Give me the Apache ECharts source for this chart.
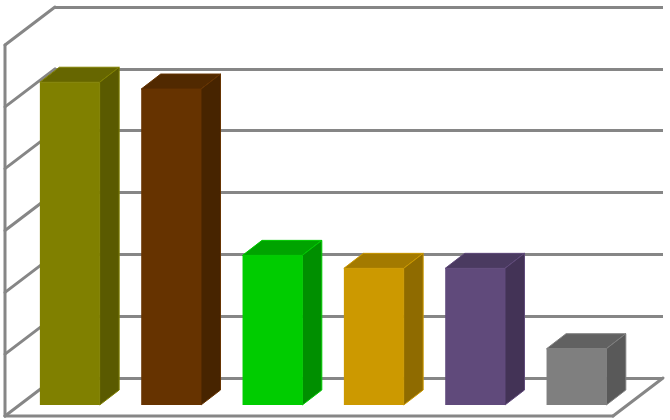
<!DOCTYPE html>
<html><head><meta charset="utf-8">
<style>html,body{margin:0;padding:0;background:#fff}#c{width:670px;height:420px}</style>
<script src="https://cdn.jsdelivr.net/npm/echarts@6/dist/echarts.min.js"></script>
</head><body><div id="c"></div>
<script>
const categories = ['A','B','C','D','E','F'];
const values = [5.22, 5.11, 2.42, 2.21, 2.21, 0.91];
const frontColors = ['#808000','#663300','#00CC00','#CC9900','#604A7B','#7F7F7F'];
const topColors   = ['#666600','#512900','#00A300','#A37A00','#4A3A60','#616161'];
const sideColors  = ['#5A5A00','#472400','#008F00','#8F6B00','#433356','#595959'];
const yTicks = [0,1,2,3,4,5,6];

const WALL_DX = 50, WALL_DY = 38;
const FRONT_DX = 35.9, FRONT_DY = 27;
const DEPTH_DX = 19.5, DEPTH_DY = 15;
const GRAY = '#868686', LINE_W = 3;

function renderFrame(params, api) {
  const cs = params.coordSys;
  const t = api.value(1);
  const y = api.coord([0, t])[1];
  const ls = {stroke: GRAY, lineWidth: LINE_W, lineCap: 'round'};
  const kids = [{type:'line', shape:{x1:cs.x, y1:y, x2:cs.x-WALL_DX, y2:y+WALL_DY}, style:ls}];
  if (t === 0) {
    const yTop = api.coord([0, yTicks[yTicks.length-1]])[1];
    kids.push({type:'line', shape:{x1:cs.x-WALL_DX, y1:yTop+WALL_DY, x2:cs.x-WALL_DX, y2:y+WALL_DY}, style:ls});
    kids.push({type:'line', shape:{x1:cs.x-WALL_DX, y1:y+WALL_DY, x2:cs.x+cs.width-WALL_DX, y2:y+WALL_DY}, style:ls});
    kids.push({type:'line', shape:{x1:cs.x+cs.width-WALL_DX, y1:y+WALL_DY, x2:cs.x+cs.width, y2:y}, style:ls});
  }
  return {type:'group', children:kids};
}

function renderBar(params, api) {
  const i = params.dataIndex;
  const top = api.coord([i, api.value(1)]);
  const base = api.coord([i, 0]);
  const w = api.size([1,0])[0] * 0.59;
  const l = top[0] - FRONT_DX - w/2, r = l + w;
  const t = top[1] + FRONT_DY, b = base[1] + FRONT_DY;
  const edge = frontColors[i];
  const poly = (pts, fill) => ({type:'polygon', shape:{points:pts}, style:{fill, stroke:edge, lineWidth:1, lineJoin:'round'}});
  return {type:'group', children:[
    poly([[l,t],[l+DEPTH_DX,t-DEPTH_DY],[r+DEPTH_DX,t-DEPTH_DY],[r,t]], topColors[i]),
    poly([[r,t],[r+DEPTH_DX,t-DEPTH_DY],[r+DEPTH_DX,b-DEPTH_DY],[r,b]], sideColors[i]),
    {type:'rect', shape:{x:l,y:t,width:w,height:b-t}, style:{fill:frontColors[i]}}
  ]};
}

const chart = echarts.init(document.getElementById('c'), null, {renderer:'canvas'});
chart.setOption({
  animation:false,
  backgroundColor:'#fff',
  grid:{left:55, right:7, top:7, bottom:42},
  xAxis:{type:'category', data:categories, axisLine:{show:false}, axisTick:{show:false}, axisLabel:{show:false}},
  yAxis:{type:'value', min:0, max:6, interval:1, axisLine:{show:false}, axisTick:{show:false}, axisLabel:{show:false},
    splitLine:{show:true, lineStyle:{color:GRAY, width:LINE_W}}},
  series:[
    {type:'custom', renderItem:renderFrame, data:yTicks.map(t=>[0,t]), z:1, silent:true},
    {type:'custom', renderItem:renderBar, data:values.map((v,i)=>[i,v]), z:2, silent:true}
  ]
});
</script></body></html>
